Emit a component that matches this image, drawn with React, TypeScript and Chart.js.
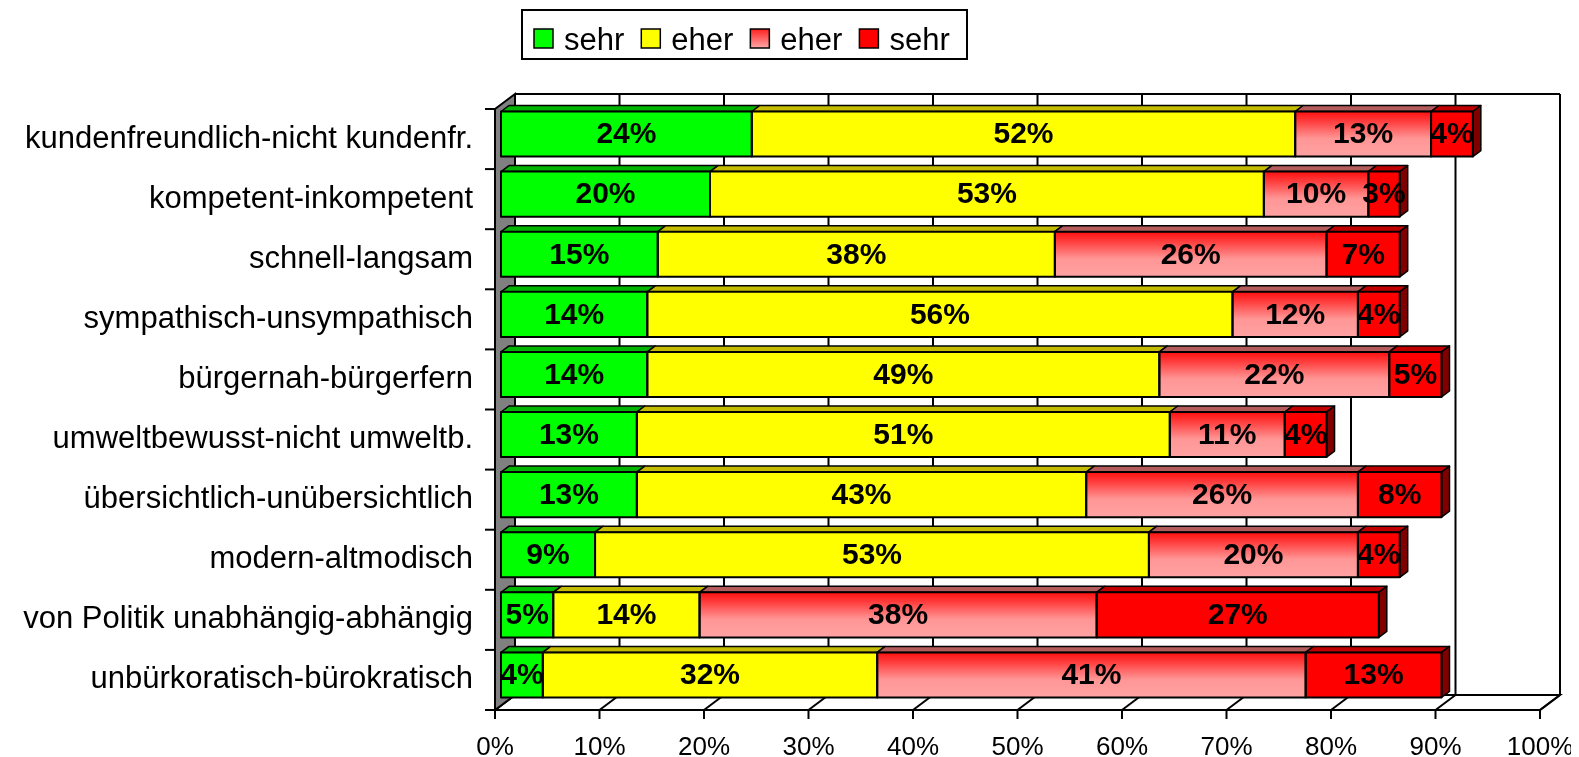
import React, { useEffect, useRef } from "react";
import { Chart, registerables } from "chart.js";

Chart.register(...registerables);

const categories = [
  "kundenfreundlich-nicht kundenfr.",
  "kompetent-inkompetent",
  "schnell-langsam",
  "sympathisch-unsympathisch",
  "bürgernah-bürgerfern",
  "umweltbewusst-nicht umweltb.",
  "übersichtlich-unübersichtlich",
  "modern-altmodisch",
  "von Politik unabhängig-abhängig",
  "unbürkoratisch-bürokratisch",
];
const seriesNames = ["sehr", "eher", "eher", "sehr"];
const sehrPositiv = [24, 20, 15, 14, 14, 13, 13, 9, 5, 4];
const eherPositiv = [52, 53, 38, 56, 49, 51, 43, 53, 14, 32];
const eherNegativ = [13, 10, 26, 12, 22, 11, 26, 20, 38, 41];
const sehrNegativ = [4, 3, 7, 4, 5, 4, 8, 4, 27, 13];
const xTickValues = [0, 10, 20, 30, 40, 50, 60, 70, 80, 90, 100];

const FONT = '"Liberation Sans", Arial, Helvetica, sans-serif';
const BAR_DX = 6;
const BAR_DY = -5;
const DEPTH_DX = 8;
const DEPTH_DY = 6;
const WALL_DX = 20;
const WALL_DY = 15;
const BAR_FRACTION = 0.75;

const frontColors = ["#00FF00", "#FFFF00", "pink", "#FF0000"];
const topColors = ["#00B400", "#C4BC00", "#B45C5C", "#C00000"];
const sideColors = ["#008000", "#8C8600", "#803030", "#800000"];

function line(ctx: CanvasRenderingContext2D, x1: number, y1: number, x2: number, y2: number) {
  ctx.beginPath();
  ctx.moveTo(x1, y1);
  ctx.lineTo(x2, y2);
  ctx.stroke();
}

function poly(ctx: CanvasRenderingContext2D, pts: number[][], fill: any, stroke: boolean) {
  ctx.beginPath();
  ctx.moveTo(pts[0][0], pts[0][1]);
  for (let i = 1; i < pts.length; i++) ctx.lineTo(pts[i][0], pts[i][1]);
  ctx.closePath();
  if (fill) {
    ctx.fillStyle = fill;
    ctx.fill();
  }
  if (stroke) ctx.stroke();
}

const excel3d = {
  id: "excel3d",
  beforeDatasetsDraw(chart: any) {
    const { ctx, chartArea: a } = chart;
    const xs = chart.scales.x;
    const x0 = xs.getPixelForValue(0);
    const x1 = xs.getPixelForValue(100);
    const top = a.top;
    const bot = a.bottom;
    ctx.save();
    ctx.strokeStyle = "#000";
    ctx.lineWidth = 2;
    xTickValues.forEach((v) => {
      const px = xs.getPixelForValue(v) + WALL_DX;
      line(ctx, px, top - WALL_DY, px, bot - WALL_DY);
    });
    line(ctx, x0 + WALL_DX, top - WALL_DY, x1 + WALL_DX, top - WALL_DY);
    poly(
      ctx,
      [
        [x0, bot],
        [x0 + WALL_DX, bot - WALL_DY],
        [x1 + WALL_DX, bot - WALL_DY],
        [x1, bot],
      ],
      "#FFFFFF",
      true
    );
    xTickValues.forEach((v) => {
      const px = xs.getPixelForValue(v);
      line(ctx, px, bot, px + WALL_DX, bot - WALL_DY);
      line(ctx, px, bot, px, bot + 9);
    });
    poly(
      ctx,
      [
        [x0, top],
        [x0 + WALL_DX, top - WALL_DY],
        [x0 + WALL_DX, bot - WALL_DY],
        [x0, bot],
      ],
      "#808080",
      true
    );
    const n = categories.length;
    for (let k = 0; k <= n; k++) {
      const yy = top + (k * (bot - top)) / n;
      line(ctx, x0 - 10, yy, x0, yy);
    }
    ctx.restore();

    ctx.save();
    ctx.translate(BAR_DX, BAR_DY);
    ctx.strokeStyle = "#000";
    ctx.lineWidth = 1.5;
    ctx.lineJoin = "round";
    const nd = chart.data.datasets.length;
    for (let d = 0; d < nd; d++) {
      const meta = chart.getDatasetMeta(d);
      meta.data.forEach((el: any) => {
        const p = el.getProps(["x", "y", "base", "height"], true);
        const xa = Math.min(p.x, p.base);
        const xb = Math.max(p.x, p.base);
        const yt = p.y - p.height / 2;
        const yb = p.y + p.height / 2;
        poly(
          ctx,
          [
            [xa, yt],
            [xb, yt],
            [xb + DEPTH_DX, yt - DEPTH_DY],
            [xa + DEPTH_DX, yt - DEPTH_DY],
          ],
          topColors[d],
          true
        );
        if (d === nd - 1) {
          poly(
            ctx,
            [
              [xb, yt],
              [xb + DEPTH_DX, yt - DEPTH_DY],
              [xb + DEPTH_DX, yb - DEPTH_DY],
              [xb, yb],
            ],
            sideColors[d],
            true
          );
        }
      });
    }
  },
  afterDatasetsDraw(chart: any) {
    const { ctx } = chart;
    ctx.strokeStyle = "#000";
    ctx.lineWidth = 2;
    const nd = chart.data.datasets.length;
    for (let d = 0; d < nd; d++) {
      const meta = chart.getDatasetMeta(d);
      meta.data.forEach((el: any) => {
        const p = el.getProps(["x", "y", "base", "height"], true);
        const xa = Math.min(p.x, p.base);
        const xb = Math.max(p.x, p.base);
        ctx.strokeRect(xa, p.y - p.height / 2, xb - xa, p.height);
      });
    }
    ctx.fillStyle = "#000";
    ctx.font = `bold 30px ${FONT}`;
    ctx.textAlign = "center";
    ctx.textBaseline = "middle";
    for (let d = 0; d < nd; d++) {
      const meta = chart.getDatasetMeta(d);
      const vals = chart.data.datasets[d].data;
      meta.data.forEach((el: any, i: number) => {
        const p = el.getProps(["x", "y", "base"], true);
        ctx.fillText(vals[i] + "%", (p.x + p.base) / 2, p.y + 1);
      });
    }
    ctx.restore();
  },
  afterDraw(chart: any) {
    const { ctx } = chart;
    ctx.save();
    const boxX = 514;
    const boxY = 2;
    const boxW = 445;
    const boxH = 49;
    ctx.fillStyle = "#FFFFFF";
    ctx.fillRect(boxX, boxY, boxW, boxH);
    ctx.strokeStyle = "#000";
    ctx.lineWidth = 2;
    ctx.strokeRect(boxX, boxY, boxW, boxH);
    ctx.font = `31px ${FONT}`;
    ctx.textAlign = "left";
    ctx.textBaseline = "alphabetic";
    let x = 526;
    const sq = 19;
    const sqY = 21;
    seriesNames.forEach((name, d) => {
      let fill: any = frontColors[d];
      if (d === 2) {
        const g = ctx.createLinearGradient(0, sqY, 0, sqY + sq);
        g.addColorStop(0, "#FF2020");
        g.addColorStop(1, "#FFA8A8");
        fill = g;
      }
      ctx.fillStyle = fill;
      ctx.fillRect(x, sqY, sq, sq);
      ctx.lineWidth = 1.5;
      ctx.strokeRect(x, sqY, sq, sq);
      ctx.fillStyle = "#000";
      const tx = x + sq + 11;
      ctx.fillText(name, tx, 42);
      x = tx + ctx.measureText(name).width + 17;
    });
    ctx.restore();
  },
};

function pinkGradient(c: any) {
  const chart = c.chart;
  const a = chart.chartArea;
  if (!a || !chart.scales.y) return "#FF7070";
  const ys = chart.scales.y;
  const yc = ys.getPixelForValue(c.dataIndex);
  const half = (((a.bottom - a.top) / categories.length) * BAR_FRACTION) / 2;
  const g = chart.ctx.createLinearGradient(0, yc - half, 0, yc + half);
  g.addColorStop(0, "#FF1010");
  g.addColorStop(0.15, "#FF2E2E");
  g.addColorStop(0.6, "#FF9696");
  g.addColorStop(1, "#FFA2A2");
  return g;
}

export default function App() {
  const ref = useRef<HTMLCanvasElement | null>(null);
  useEffect(() => {
    document.body.style.overflow = "hidden";
    if (!ref.current) return;
    const seriesData = [sehrPositiv, eherPositiv, eherNegativ, sehrNegativ];
    const chart = new Chart(ref.current, {
      type: "bar",
      data: {
        labels: categories,
        datasets: seriesData.map((data, d) => ({
          label: seriesNames[d],
          data,
          backgroundColor: d === 2 ? pinkGradient : frontColors[d],
          borderWidth: 0,
          barPercentage: BAR_FRACTION,
          categoryPercentage: 1,
        })),
      },
      options: {
        indexAxis: "y",
        animation: false,
        responsive: true,
        maintainAspectRatio: false,
        layout: { padding: { top: 101, right: 31, left: 0, bottom: 0 } },
        plugins: {
          legend: { display: false },
          tooltip: { enabled: false },
          title: { display: false },
        },
        datasets: { bar: { clip: false } } as any,
        scales: {
          x: {
            stacked: true,
            min: 0,
            max: 100,
            afterBuildTicks: (s: any) => {
              s.ticks = xTickValues.map((v) => ({ value: v }));
            },
            afterFit: (s: any) => {
              s.height = 47;
              s.paddingLeft = 0;
              s.paddingRight = 0;
            },
            grid: { display: false, drawTicks: false },
            border: { display: false },
            ticks: {
              color: "#000",
              font: { family: FONT, size: 26 },
              padding: 22,
              maxRotation: 0,
              autoSkip: false,
              callback: (v: any) => v + "%",
            },
          },
          y: {
            stacked: true,
            afterFit: (s: any) => {
              s.width = 487;
              s.paddingTop = 0;
              s.paddingBottom = 0;
            },
            grid: { display: false, drawTicks: false },
            border: { display: false },
            ticks: {
              color: "#000",
              font: { family: FONT, size: 31 },
              padding: 22,
              autoSkip: false,
            },
          },
        },
      },
      plugins: [excel3d],
    });
    return () => chart.destroy();
  }, []);
  return (
    <div style={{ width: 1563, height: 749, position: "relative" }}>
      <canvas ref={ref} style={{ display: "block" }} />
    </div>
  );
}
